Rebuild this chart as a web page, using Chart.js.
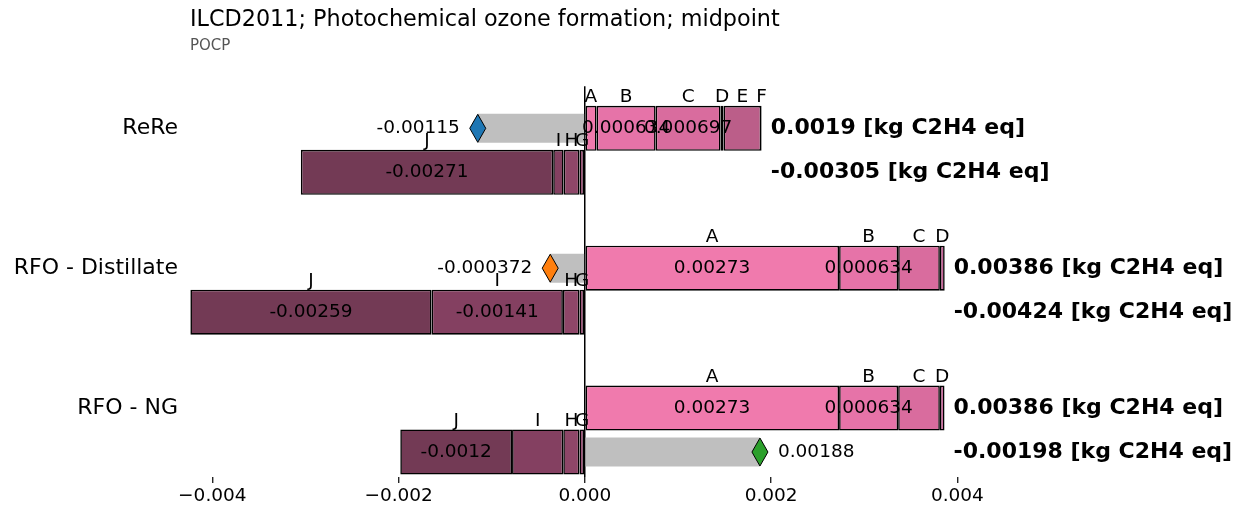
<!DOCTYPE html>
<html><head><meta charset="utf-8">
<script src="https://cdn.jsdelivr.net/npm/chart.js@4"></script>
<style>html,body{margin:0;padding:0;background:#fff}canvas{display:block}</style>
</head><body>
<canvas id="c" width="1239" height="508"></canvas>
<script>
// ---- data ----
const groups = ['ReRe', 'RFO - Distillate', 'RFO - NG'];
const posLetters = ['A', 'B', 'C', 'D', 'E', 'F'];
const posA = [0.000126, 0.00273, 0.00273];
const posB = [0.000634, 0.000634, 0.000634];
const posC = [0.000697, 0.000448, 0.000448];
const posD = [0.000032, 0.000052, 0.00005];
const posE = [0.000405, 0, 0];
const posF = [0.000006, 0, 0];
const negLetters = ['G', 'H', 'I', 'J'];
const negG = [-0.000058, -0.000058, -0.000058];
const negH = [-0.00017, -0.000178, -0.000174];
const negI = [-0.000112, -0.00141, -0.00055];
const negJ = [-0.00271, -0.00259, -0.0012];
const xTickValues = [-0.004, -0.002, 0, 0.002, 0.004];
const xTickLabels = ['\u22120.004', '\u22120.002', '0.000', '0.002', '0.004'];
const unitLabel = 'kg C2H4 eq';
const titleText = 'ILCD2011; Photochemical ozone formation; midpoint';
const subtitleText = 'POCP';

// ---- styles ----
const posColors = ['#f07aad', '#e673a8', '#d96c9e', '#c9659a', '#bb5e89', '#ad587f'];
const negColors = ['#964a70', '#8e4668', '#844061', '#733a55'];
const netColors = ['#1f77b4', '#ff7f0e', '#2ca02c'];
const FONT = '"DejaVu Sans", sans-serif';
const rowHalf = 22 / 140;           // half row height in group units
const labelThreshold = 0.0006;

const posSeries = [posA, posB, posC, posD, posE, posF];
const negSeries = [negG, negH, negI, negJ];

function fmt(v) { return String(Number(v.toPrecision(3))); }

function buildSegments(series, letters, colors, rowSign) {
  const cum = groups.map(() => 0);
  return series.map((vals, k) => {
    const pts = [];
    vals.forEach((v, i) => {
      if (v !== 0) pts.push({ x: [cum[i], cum[i] + v], y: i + rowSign * rowHalf, v: v, letter: letters[k] });
      cum[i] += v;
    });
    return {
      label: letters[k], data: pts, segment: true,
      backgroundColor: colors[k], borderColor: '#000', borderWidth: 1.6, borderSkipped: false,
      barThickness: 45, grouped: false, clip: false, inflateAmount: 0
    };
  });
}

const posTotals = groups.map((g, i) => posSeries.reduce((s, a) => s + a[i], 0));
const negTotals = groups.map((g, i) => negSeries.reduce((s, a) => s + a[i], 0));
const netTotals = groups.map((g, i) => posTotals[i] + negTotals[i]);
const netRow = i => netTotals[i] < 0 ? i - rowHalf : i + rowHalf;

const netDataset = {
  label: 'net', net: true,
  data: groups.map((g, i) => ({ x: [0, netTotals[i]], y: netRow(i) })),
  backgroundColor: '#bfbfbf', borderWidth: 0, barThickness: 29, grouped: false, clip: false, inflateAmount: 0
};

const datasets = [
  ...buildSegments(posSeries, posLetters, posColors, -1),
  ...buildSegments(negSeries, negLetters, negColors, 1),
  netDataset
];

const labelPlugin = {
  id: 'labels',
  afterDatasetsDraw(chart) {
    const ctx = chart.ctx, xs = chart.scales.x, ys = chart.scales.y;
    ctx.save();
    ctx.fillStyle = '#000';
    // segment letters and values
    chart.data.datasets.forEach((ds, di) => {
      if (!ds.segment) return;
      const meta = chart.getDatasetMeta(di);
      ds.data.forEach((p, j) => {
        const el = meta.data[j];
        const x0 = xs.getPixelForValue(p.x[0]), x1 = xs.getPixelForValue(p.x[1]);
        const cx = (x0 + x1) / 2, cy = ys.getPixelForValue(p.y);
        ctx.font = '18.5px ' + FONT;
        ctx.textAlign = 'center';
        ctx.textBaseline = 'alphabetic';
        ctx.fillText(p.letter, cx, cy - el.height / 2 - 4);
        if (Math.abs(p.v) >= labelThreshold) {
          ctx.textBaseline = 'middle';
          ctx.fillText(fmt(p.v), cx, cy);
        }
      });
    });
    // net diamonds and labels
    groups.forEach((g, i) => {
      const x = xs.getPixelForValue(netTotals[i]);
      const y = ys.getPixelForValue(netRow(i));
      ctx.beginPath();
      ctx.moveTo(x, y - 14); ctx.lineTo(x + 8, y); ctx.lineTo(x, y + 14); ctx.lineTo(x - 8, y); ctx.closePath();
      ctx.fillStyle = netColors[i]; ctx.fill();
      ctx.lineWidth = 1; ctx.strokeStyle = '#000'; ctx.stroke();
      ctx.fillStyle = '#000';
      ctx.font = '18.5px ' + FONT;
      ctx.textBaseline = 'middle';
      if (netTotals[i] < 0) { ctx.textAlign = 'right'; ctx.fillText(fmt(netTotals[i]), x - 18, y); }
      else { ctx.textAlign = 'left'; ctx.fillText(fmt(netTotals[i]), x + 18, y); }
      // totals
      const tx = xs.getPixelForValue(posTotals[i]) + 9;
      ctx.font = 'bold 22px ' + FONT;
      ctx.textAlign = 'left';
      ctx.fillText(fmt(posTotals[i]) + ' [' + unitLabel + ']', tx, ys.getPixelForValue(i - rowHalf));
      ctx.fillText(fmt(negTotals[i]) + ' [' + unitLabel + ']', tx, ys.getPixelForValue(i + rowHalf));
    });
    ctx.restore();
  }
};

new Chart(document.getElementById('c'), {
  type: 'bar',
  data: { datasets },
  plugins: [labelPlugin],
  options: {
    indexAxis: 'y',
    responsive: false,
    animation: false,
    devicePixelRatio: 1,
    layout: { padding: { left: 0, right: 263, top: 0, bottom: 0 } },
    plugins: {
      legend: { display: false },
      tooltip: { enabled: false },
      title: {
        display: true, text: titleText, align: 'start', fullSize: false,
        color: '#000', font: { family: FONT, size: 22.3, weight: 'normal' },
        padding: { top: 7, bottom: 0 }
      },
      subtitle: {
        display: true, text: subtitleText, align: 'start', fullSize: false,
        color: '#555', font: { family: FONT, size: 15, weight: 'normal' },
        padding: { top: 3, bottom: 31.6 }
      }
    },
    scales: {
      x: {
        type: 'linear', min: -0.00424, max: 0.0042,
        border: { display: false },
        grid: {
          drawOnChartArea: true, drawTicks: true, tickLength: 6, tickColor: '#000', tickWidth: 1.2,
          color: c => (c.tick && c.tick.value === 0) ? '#000' : 'rgba(0,0,0,0)', lineWidth: 1.5
        },
        afterBuildTicks: s => { s.ticks = xTickValues.map(v => ({ value: v })); },
        afterFit: s => { s.height = 31; },
        ticks: {
          color: '#000', padding: 2, font: { family: FONT, size: 18.5 },
          callback: (v, i) => xTickLabels[i]
        }
      },
      y: {
        type: 'linear', reverse: true, offset: false, min: -64 / 140, max: 327 / 140,
        border: { display: false },
        grid: { display: false, offset: false },
        afterBuildTicks: s => { s.ticks = groups.map((g, i) => ({ value: i - rowHalf })); },
        afterFit: s => { s.width = 190; },
        ticks: {
          color: '#000', padding: 4, font: { family: FONT, size: 22 },
          callback: (v, i) => groups[i]
        }
      }
    }
  }
});
</script>
</body></html>
